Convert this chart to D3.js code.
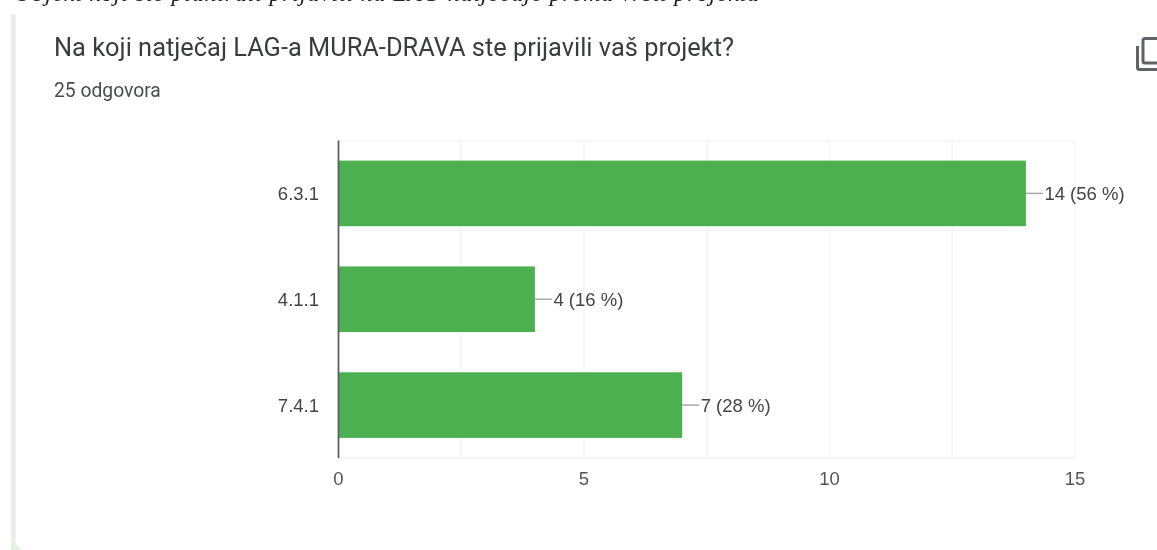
<!DOCTYPE html>
<html>
<head>
<meta charset="utf-8">
<script src="https://cdnjs.cloudflare.com/ajax/libs/d3/7.8.5/d3.min.js"></script>
<style>
html, body { margin: 0; padding: 0; background: #fff; overflow: hidden; }
/* the reference is a slightly soft screenshot */
svg { display: block; filter: blur(0.35px); }
</style>
</head>
<body>
<div id="chart"></div>
<script>
var categories = ["6.3.1", "4.1.1", "7.4.1"];
var counts = [14, 4, 7];
var labels = ["14 (56 %)", "4 (16 %)", "7 (28 %)"];
var ticks = [0, 5, 10, 15];
var gridValues = [2.5, 5, 7.5, 10, 12.5, 15];
var titleText = "Na koji natječaj LAG-a MURA-DRAVA ste prijavili vaš projekt?";
var subtitleText = "25 odgovora";
var clippedText = "Objekt koji ste planirali prijaviti na LAG natječaje prema vrsti projekta";

var width = 1157, height = 550;
var plot = {left: 338.5, right: 1075, top: 140.5, bottom: 458};

var svg = d3.select("#chart").append("svg")
    .attr("width", width)
    .attr("height", height);

// card edge on the left
svg.append("path")
    .attr("d", "M11,14V550H22Q15,546 15,536V14Z")
    .attr("fill", "#e3f0e4");
svg.append("line")
    .attr("x1", 15).attr("x2", 15)
    .attr("y1", 14).attr("y2", 538)
    .style("stroke", "#e2e6e3");

// line of text cut off by the top of the screenshot
svg.append("text")
    .attr("x", 14)
    .attr("y", 0.5)
    .style("font", "italic 24px 'Liberation Serif'")
    .style("letter-spacing", "0.8px")
    .style("fill", "#222")
    .text(clippedText);

svg.append("text")
    .attr("x", 54)
    .attr("y", 55.5)
    .style("font", "25.4px Roboto")
    .style("fill", "#3a3c3f")
    .text(titleText);

svg.append("text")
    .attr("x", 54)
    .attr("y", 97)
    .style("font", "19.3px Roboto")
    .style("fill", "#4a4d50")
    .text(subtitleText);

// copy icon, cut by the right edge
var icon = svg.append("g")
    .style("fill", "none")
    .style("stroke", "#5f6368")
    .style("stroke-width", 3);
icon.append("path").attr("d", "M1137.5,46V67.5a2,2 0 0 0 2,2H1157");
icon.append("path").attr("d", "M1157,38.5H1145a2,2 0 0 0 -2,2V61a2,2 0 0 0 2,2H1157");

var x = d3.scaleLinear().domain([0, 15]).range([plot.left, plot.right]);
var y = d3.scaleBand().domain(categories)
    .range([plot.top, plot.bottom])
    .paddingInner(0.38)
    .paddingOuter(0.19);

// gridlines
svg.selectAll("line.grid")
    .data(gridValues)
    .enter()
    .append("line")
    .attr("class", "grid")
    .attr("x1", function(d) { return x(d); })
    .attr("x2", function(d) { return x(d); })
    .attr("y1", plot.top)
    .attr("y2", plot.bottom)
    .style("stroke", "#f4f4f4")
    .style("stroke-width", 1.5);

svg.append("line")
    .attr("x1", plot.left).attr("x2", plot.right)
    .attr("y1", plot.top).attr("y2", plot.top)
    .style("stroke", "#f5f5f5")
    .style("stroke-width", 1.5);
svg.append("line")
    .attr("x1", plot.left).attr("x2", plot.right + 1)
    .attr("y1", plot.bottom).attr("y2", plot.bottom)
    .style("stroke", "#f3f3f3")
    .style("stroke-width", 2);

// bars
svg.selectAll("rect.bar")
    .data(counts)
    .enter()
    .append("rect")
    .attr("class", "bar")
    .attr("x", plot.left)
    .attr("y", function(d, i) { return y(categories[i]); })
    .attr("width", function(d) { return x(d) - plot.left; })
    .attr("height", y.bandwidth())
    .style("fill", "#4caf50");

// leader lines and value labels
svg.selectAll("line.leader")
    .data(counts)
    .enter()
    .append("line")
    .attr("class", "leader")
    .attr("x1", function(d) { return x(d); })
    .attr("x2", function(d) { return x(d) + 17; })
    .attr("y1", function(d, i) { return y(categories[i]) + y.bandwidth() / 2; })
    .attr("y2", function(d, i) { return y(categories[i]) + y.bandwidth() / 2; })
    .style("stroke", "#a8a8a8")
    .style("stroke-width", 1.5);

svg.selectAll("text.value")
    .data(counts)
    .enter()
    .append("text")
    .attr("class", "value")
    .attr("x", function(d) { return x(d) + 18.5; })
    .attr("y", function(d, i) { return y(categories[i]) + y.bandwidth() / 2 + 6.5; })
    .style("font", "18.5px 'Liberation Sans'")
    .style("fill", "#444")
    .text(function(d, i) { return labels[i]; });

// category labels
svg.selectAll("text.cat")
    .data(categories)
    .enter()
    .append("text")
    .attr("class", "cat")
    .attr("x", 319)
    .attr("y", function(d) { return y(d) + y.bandwidth() / 2 + 6.5; })
    .style("font", "18.5px 'Liberation Sans'")
    .style("fill", "#444")
    .style("text-anchor", "end")
    .text(function(d) { return d; });

// baseline
svg.append("line")
    .attr("x1", plot.left).attr("x2", plot.left)
    .attr("y1", plot.top).attr("y2", plot.bottom)
    .style("stroke", "#5f5f5f")
    .style("stroke-width", 1.8);

// tick labels
svg.selectAll("text.tick")
    .data(ticks)
    .enter()
    .append("text")
    .attr("class", "tick")
    .attr("x", function(d) { return x(d); })
    .attr("y", 485)
    .style("font", "18.5px 'Liberation Sans'")
    .style("fill", "#555")
    .style("text-anchor", "middle")
    .text(function(d) { return d; });
</script>
</body>
</html>
